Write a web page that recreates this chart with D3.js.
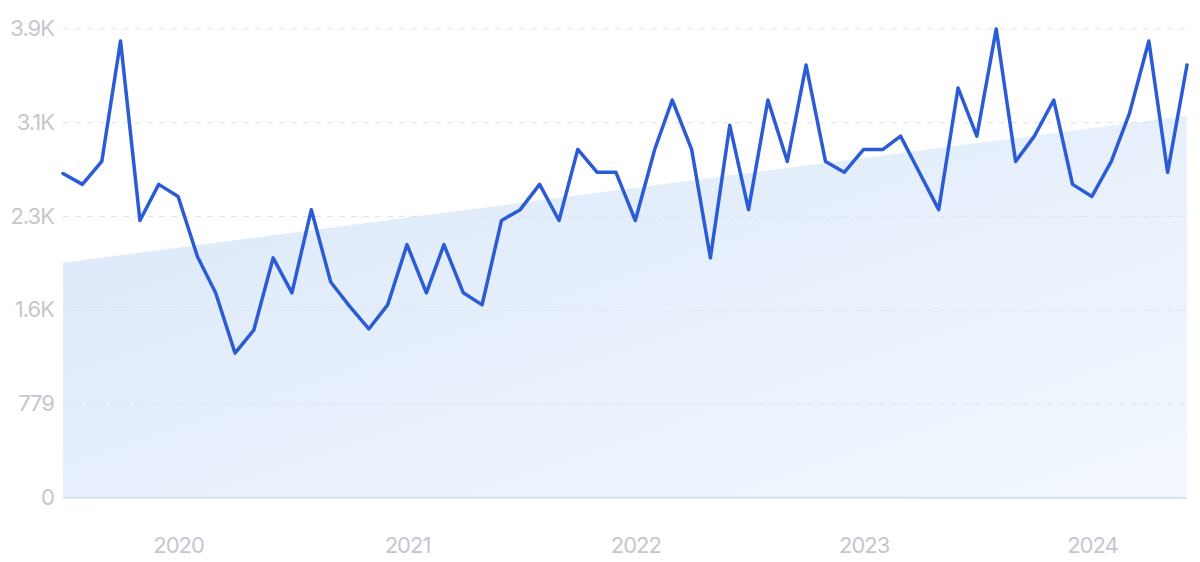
<!DOCTYPE html>
<html>
<head>
<meta charset="utf-8">
<script src="https://cdn.jsdelivr.net/npm/d3@7"></script>
<style>
  html, body { margin: 0; padding: 0; background: #ffffff; }
  svg { display: block; }
  text { font-family: Inter, "Noto Sans", sans-serif; }
</style>
</head>
<body>
<svg id="chart" width="1200" height="562"></svg>
<script>
// Monthly values, Jul 2019 – Jun 2024
const startMonth = [2019, 6]; // year, month index (0-based) => July 2019
const values = [
  2690, 2600, 2790, 3790, 2300, 2600, 2500, 2000, 1700, 1200,
  1390, 1990, 1700, 2390, 1790, 1590, 1400, 1600, 2100, 1700,
  2100, 1700, 1600, 2300, 2390, 2600, 2300, 2890, 2700, 2700,
  2300, 2890, 3300, 2890, 1990, 3090, 2390, 3300, 2790, 3590,
  2790, 2700, 2890, 2890, 3000, 2690, 2390, 3400, 3000, 3890,
  2790, 3000, 3300, 2600, 2500, 2790, 3190, 3790, 2700, 3590
];
const trendValues = [1950, 3170]; // trend at first and last month
const yTicks = [0, 779, 1558, 2337, 3116, 3895];
const yTickLabels = ["0", "779", "1.6K", "2.3K", "3.1K", "3.9K"];
const xTickYears = [2020, 2021, 2022, 2023, 2024];

const dates = values.map((v, i) => new Date(startMonth[0], startMonth[1] + i, 1));
const data = values.map((v, i) => ({ date: dates[i], value: v }));

const svg = d3.select("#chart");
const margin = { left: 63, right: 13, top: 28.3, bottom: 64.3 };
const W = 1200, H = 562;

const x = d3.scaleTime()
  .domain([dates[0], dates[dates.length - 1]])
  .range([margin.left, W - margin.right]);
const y = d3.scaleLinear()
  .domain([0, 3895])
  .range([H - margin.bottom, margin.top]);

// gradient for trend area
const defs = svg.append("defs");
const grad = defs.append("linearGradient")
  .attr("id", "trendGrad")
  .attr("x1", "0%").attr("y1", "0%")
  .attr("x2", "100%").attr("y2", "100%");
grad.append("stop").attr("offset", "0%").attr("stop-color", "#dae7f9");
grad.append("stop").attr("offset", "100%").attr("stop-color", "#f3f8fe");

// trend area
const trendData = [
  { date: dates[0], value: trendValues[0] },
  { date: dates[dates.length - 1], value: trendValues[1] }
];
svg.append("path")
  .datum(trendData)
  .attr("fill", "url(#trendGrad)")
  .attr("d", d3.area().x(d => x(d.date)).y0(y(0)).y1(d => y(d.value)));

// gridlines + y labels
const yAxis = d3.axisLeft(y)
  .tickValues(yTicks)
  .tickFormat((d, i) => yTickLabels[i])
  .tickSize(-(W - margin.left - margin.right))
  .tickPadding(9);
const gy = svg.append("g")
  .attr("transform", `translate(${margin.left},0)`)
  .call(yAxis);
gy.select(".domain").remove();
gy.selectAll(".tick line")
  .attr("stroke", d => d === 0 ? "none" : "#d9e3f2")
  .attr("stroke-width", 1)
  .attr("stroke-dasharray", "6,6");
gy.selectAll(".tick text")
  .attr("fill", "#c4c7ce")
  .attr("font-size", 22)
  .attr("letter-spacing", -1)
  .attr("font-family", "Inter, 'Noto Sans', sans-serif");

// baseline
svg.append("line")
  .attr("x1", margin.left).attr("x2", W - margin.right)
  .attr("y1", y(0)).attr("y2", y(0))
  .attr("stroke", "#d3e1f3").attr("stroke-width", 2);

// x axis
const xAxis = d3.axisBottom(x)
  .tickValues(xTickYears.map(yr => new Date(yr, 0, 1)))
  .tickFormat(d3.timeFormat("%Y"))
  .tickSize(0)
  .tickPadding(40);
const gx = svg.append("g")
  .attr("transform", `translate(0,${y(0)})`)
  .call(xAxis);
gx.select(".domain").remove();
gx.selectAll(".tick text")
  .attr("fill", "#c4c7ce")
  .attr("font-size", 22)
  .attr("letter-spacing", -1)
  .attr("font-family", "Inter, 'Noto Sans', sans-serif");

// line
svg.append("path")
  .datum(data)
  .attr("fill", "none")
  .attr("stroke", "#2b5cd6")
  .attr("stroke-width", 3.5)
  .attr("stroke-linejoin", "round")
  .attr("stroke-linecap", "round")
  .attr("d", d3.line().x(d => x(d.date)).y(d => y(d.value)));
</script>
</body>
</html>
